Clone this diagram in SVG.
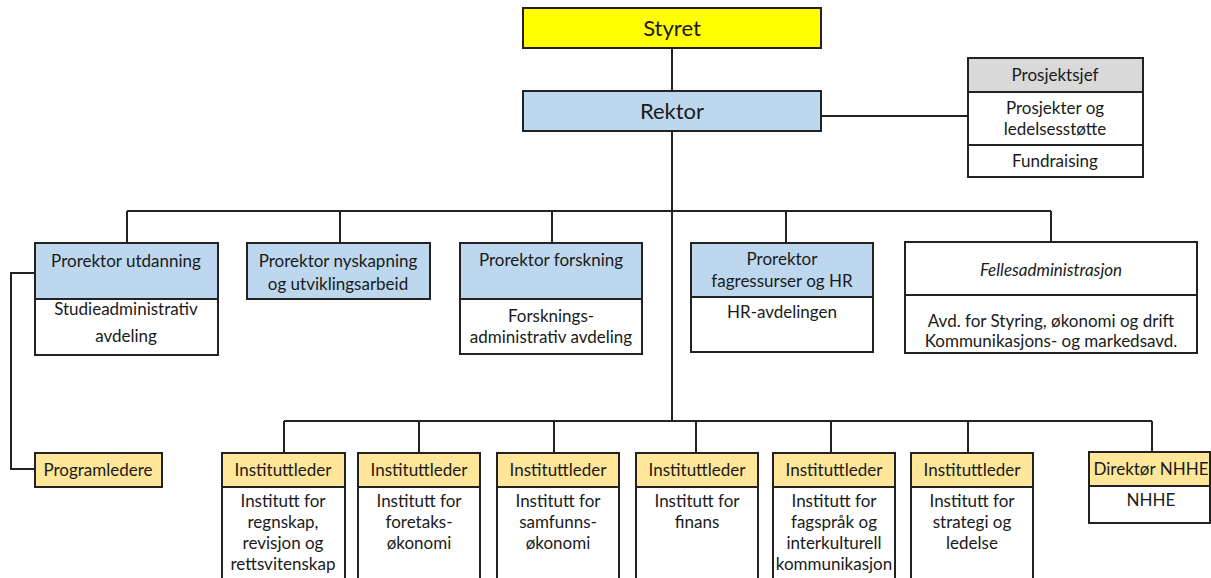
<svg xmlns="http://www.w3.org/2000/svg" width="1211" height="578" viewBox="0 0 1211 578">
<style>
text{font-family:Lato,"Liberation Sans",sans-serif;font-size:17px;fill:#1a1a1a;text-anchor:middle}
.big{font-size:22px}
.it{font-style:italic}
.box{stroke:#222;stroke-width:2;fill:#fff}
.blue{fill:#bdd7ee}
.yel{fill:#ffe699}
.gray{fill:#d9d9d9}
.sty{fill:#ffff00}
.div{stroke:#222;stroke-width:2;fill:none}
.conn path{stroke:#222;stroke-width:2;fill:none}
</style>
<rect width="1211" height="578" fill="#fff"/>
<g class="conn" id="connectors">
<path d="M672,48V91"/>
<path d="M821,116H968"/>
<path d="M672,131V421"/>
<path d="M127,211H1051"/>
<path d="M127,211V243M340,211V243M552,211V243M786,211V243M1051,211V242"/>
<path d="M35,273H11V469H35"/>
<path d="M284,421H1152"/>
<path d="M284,421V453M419,421V453M554,421V453M696,421V453M831,421V453M968,421V453M1152,421V452"/>
</g>
<g id="styret"><rect class="box sty" x="523" y="8" width="298" height="40"/><text class="big" x="672" y="36">Styret</text></g>
<g id="rektor"><rect class="box blue" x="523" y="91" width="298" height="40"/><text class="big" x="672" y="119">Rektor</text></g>
<g id="prosjektsjef">
<rect class="box" x="968" y="58" width="175" height="119"/>
<rect class="box gray" x="968" y="58" width="175" height="34"/>
<path class="div" d="M968,145H1143"/>
<text x="1055" y="81">Prosjektsjef</text>
<text x="1055" y="114">Prosjekter og</text>
<text x="1055" y="135">ledelsesstøtte</text>
<text x="1055" y="167">Fundraising</text>
</g>
<g id="prorektor-utdanning">
<rect class="box" x="35" y="243" width="183" height="112"/>
<rect class="box blue" x="35" y="243" width="183" height="56"/>
<text x="126" y="267">Prorektor utdanning</text>
<text x="126" y="315">Studieadministrativ</text>
<text x="126" y="342">avdeling</text>
</g>
<g id="prorektor-nyskapning">
<rect class="box blue" x="247" y="243" width="183" height="56"/>
<text x="338" y="267">Prorektor nyskapning</text>
<text x="338" y="290">og utviklingsarbeid</text>
</g>
<g id="prorektor-forskning">
<rect class="box" x="460" y="243" width="182" height="111"/>
<rect class="box blue" x="460" y="243" width="182" height="56"/>
<text x="551" y="266">Prorektor forskning</text>
<text x="551" y="322">Forsknings-</text>
<text x="551" y="343">administrativ avdeling</text>
</g>
<g id="prorektor-fagressurser">
<rect class="box" x="691" y="243" width="182" height="109"/>
<rect class="box blue" x="691" y="243" width="182" height="54"/>
<text x="782" y="265">Prorektor</text>
<text x="782" y="287">fagressurser og HR</text>
<text x="782" y="318">HR-avdelingen</text>
</g>
<g id="fellesadministrasjon">
<rect class="box" x="905" y="242" width="292" height="111"/>
<path class="div" d="M905,295H1197"/>
<text class="it" x="1051" y="276">Fellesadministrasjon</text>
<text x="1051" y="327">Avd. for Styring, økonomi og drift</text>
<text x="1051" y="347">Kommunikasjons- og markedsavd.</text>
</g>
<g id="programledere">
<rect class="box yel" x="35" y="453" width="127" height="34"/>
<text x="98" y="476">Programledere</text>
</g>
<g id="inst-regnskap">
<rect class="box" x="222" y="453" width="123" height="140"/>
<rect class="box yel" x="222" y="453" width="123" height="34"/>
<text x="283" y="476">Instituttleder</text>
<text x="283" y="507">Institutt for</text>
<text x="283" y="528">regnskap,</text>
<text x="283" y="549">revisjon og</text>
<text x="283" y="570">rettsvitenskap</text>
</g>
<g id="inst-foretak">
<rect class="box" x="358" y="453" width="122" height="140"/>
<rect class="box yel" x="358" y="453" width="122" height="34"/>
<text x="419" y="476">Instituttleder</text>
<text x="419" y="507">Institutt for</text>
<text x="419" y="528">foretaks-</text>
<text x="419" y="549">økonomi</text>
</g>
<g id="inst-samfunn">
<rect class="box" x="497" y="453" width="122" height="140"/>
<rect class="box yel" x="497" y="453" width="122" height="34"/>
<text x="558" y="476">Instituttleder</text>
<text x="558" y="507">Institutt for</text>
<text x="558" y="528">samfunns-</text>
<text x="558" y="549">økonomi</text>
</g>
<g id="inst-finans">
<rect class="box" x="636" y="453" width="122" height="140"/>
<rect class="box yel" x="636" y="453" width="122" height="34"/>
<text x="697" y="476">Instituttleder</text>
<text x="697" y="507">Institutt for</text>
<text x="697" y="528">finans</text>
</g>
<g id="inst-fagsprak">
<rect class="box" x="773" y="453" width="122" height="140"/>
<rect class="box yel" x="773" y="453" width="122" height="34"/>
<text x="834" y="476">Instituttleder</text>
<text x="834" y="507">Institutt for</text>
<text x="834" y="528">fagspråk og</text>
<text x="834" y="549">interkulturell</text>
<text x="834" y="570">kommunikasjon</text>
</g>
<g id="inst-strategi">
<rect class="box" x="911" y="453" width="122" height="140"/>
<rect class="box yel" x="911" y="453" width="122" height="34"/>
<text x="972" y="476">Instituttleder</text>
<text x="972" y="507">Institutt for</text>
<text x="972" y="528">strategi og</text>
<text x="972" y="549">ledelse</text>
</g>
<g id="nhhe">
<rect class="box" x="1089" y="452" width="121" height="71"/>
<rect class="box yel" x="1089" y="452" width="121" height="34"/>
<text x="1151" y="475">Direktør NHHE</text>
<text x="1151" y="506">NHHE</text>
</g>
</svg>
